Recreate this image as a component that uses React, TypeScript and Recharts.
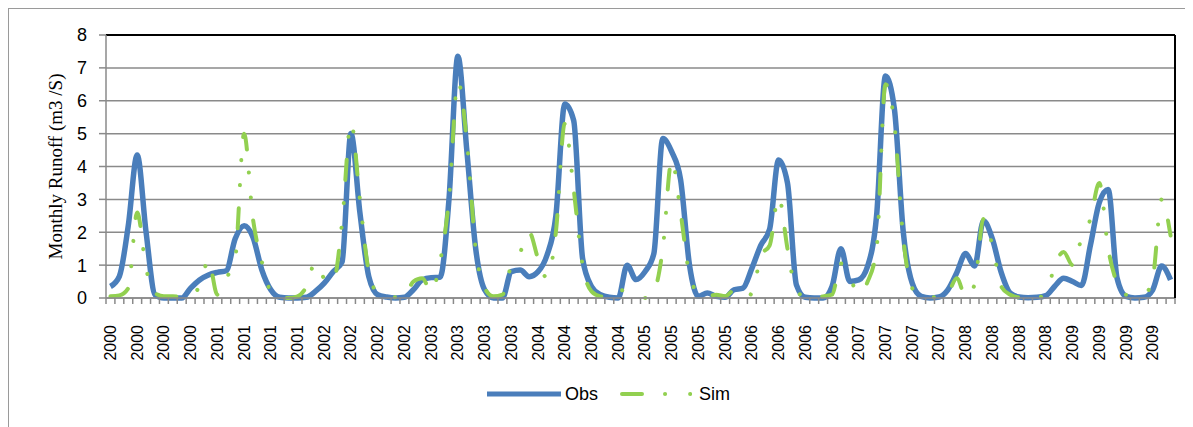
import React from "react";
import { LineChart, Line, XAxis, YAxis, CartesianGrid, Legend, ReferenceLine } from "recharts";

const YEARS = [2000, 2001, 2002, 2003, 2004, 2005, 2006, 2007, 2008, 2009];
const MONTHS = ["01", "02", "03", "04", "05", "06", "07", "08", "09", "10", "11", "12"];
const MONTH_KEYS = YEARS.flatMap((y) => MONTHS.map((m) => `${y}-${m}`));

// monthly runoff, observed
const OBS = [
  0.35, 0.66, 2.2, 4.35, 2.0, 0.1, 0, 0, 0, 0.3, 0.55, 0.7,
  0.78, 0.83, 1.8, 2.2, 1.85, 0.85, 0.25, 0.02, 0, 0, 0.02, 0.2,
  0.45, 0.8, 1.1, 5.0, 2.6, 0.65, 0.1, 0.03, 0, 0.02, 0.25, 0.55,
  0.62, 0.63, 3.0, 7.35, 4.5, 1.5, 0.25, 0, 0, 0.8, 0.85, 0.65,
  0.8, 1.3, 2.5, 5.9, 5.4, 1.2, 0.35, 0.1, 0.02, 0, 1.0, 0.56,
  0.8, 1.35, 4.85, 4.45, 3.6, 1.0, 0.05, 0.15, 0.05, 0.02, 0.25, 0.3,
  0.9, 1.6, 2.1, 4.2, 3.5, 0.4, 0.02, 0, 0, 0.35, 1.5, 0.5,
  0.55, 0.97, 2.5, 6.75, 5.75, 2.0, 0.45, 0.05, 0, 0.03, 0.25, 0.77,
  1.35, 0.97, 2.35, 1.8, 0.77, 0.15, 0.03, 0.01, 0.02, 0.07, 0.36, 0.6,
  0.5, 0.38, 1.6, 2.9, 3.3, 0.6, 0.05, 0, 0.02, 0.25, 0.97, 0.55,
];

// monthly runoff, simulated
const SIM = [
  0.05, 0.08, 0.3, 2.6, 0.9, 0.15, 0.05, 0.05, 0.03, 0.1, 0.35, 1.15,
  0.1, 0.6, 1.2, 5.0, 2.4, 1.1, 0.2, 0.03, 0, 0.05, 0.35, 1.1,
  0.6, 0.5, 2.3, 5.35, 3.0, 0.8, 0.15, 0.05, 0.02, 0.05, 0.5, 0.6,
  0.2, 1.1, 3.0, 6.6, 4.8, 1.5, 0.3, 0.05, 0.1, 1.0, 1.4, 2.0,
  1.2, 0.6, 2.0, 5.3, 3.3, 1.0, 0.2, 0.05, 0.02, 0.2, 0.25, 0.15,
  0, 0.2, 1.5, 4.2, 2.6, 0.7, 0.15, 0.05, 0.1, 0.05, 0.25, 0.3,
  0.1, 1.3, 1.6, 3.1, 1.5, 0.2, 0.05, 0.02, 0.05, 0.1, 1.05, 0.6,
  0.15, 0.5, 1.5, 6.5, 5.3, 1.8, 0.3, 0.05, 0.02, 0.05, 0.15, 0.6,
  0.05, 0.4, 2.4, 1.6, 0.35, 0.1, 0.02, 0.02, 0.02, 0.1, 1.0, 1.4,
  1.0, 1.8, 2.4, 3.5, 1.5, 0.45, 0.1, 0.1, 0.1, 0.6, 3.0, 1.9,
];

const Y_TICKS = [0, 1, 2, 3, 4, 5, 6, 7, 8];

const data = MONTH_KEYS.map((month, i) => ({
  month,
  year: month.slice(0, 4),
  obs: OBS[i],
  sim: SIM[i],
}));

const OBS_COLOR = "#4A7EBB";
const SIM_COLOR = "#92D050";
const SIM_DASH = "20 23 0.1 25 0.1 23";
const GRID = "#8a8a8a";
const FONT = "'Liberation Sans', Arial, sans-serif";

const W = 1184;
const H = 418;
const PLOT_W = 1069;
const HALF = PLOT_W / MONTH_KEYS.length / 2;

function MonthTick(props: any) {
  const { x, y, index, payload } = props;
  const last = index === MONTH_KEYS.length - 1;
  const show = index % 3 === 0;
  const ty = y + 27;
  return (
    <g>
      <line x1={x - HALF} y1={y} x2={x - HALF} y2={y + 6} stroke={GRID} strokeWidth={1.5} />
      {last && <line x1={x + HALF} y1={y} x2={x + HALF} y2={y + 6} stroke={GRID} strokeWidth={1.5} />}
      {show && (
        <text
          x={x}
          y={ty}
          transform={`rotate(-90, ${x}, ${ty})`}
          textAnchor="end"
          dominantBaseline="central"
          fontSize={16}
          fontFamily={FONT}
          fill="#000"
        >
          {String(payload.value).slice(0, 4)}
        </text>
      )}
    </g>
  );
}

function LegendContent() {
  return (
    <div
      style={{
        display: "flex",
        alignItems: "center",
        justifyContent: "center",
        height: 26,
        paddingLeft: 32,
        fontFamily: FONT,
        fontSize: 18,
        color: "#000",
      }}
    >
      <svg width={74} height={10}>
        <line x1={0} y1={5} x2={74} y2={5} stroke={OBS_COLOR} strokeWidth={5} />
      </svg>
      <span style={{ marginLeft: 4 }}>Obs</span>
      <svg width={72} height={10} style={{ marginLeft: 22 }}>
        <line
          x1={2}
          y1={5}
          x2={72}
          y2={5}
          stroke={SIM_COLOR}
          strokeWidth={4}
          strokeDasharray={SIM_DASH}
          strokeLinecap="round"
        />
      </svg>
      <span style={{ marginLeft: 7 }}>Sim</span>
    </div>
  );
}

export default function App() {
  return (
    <div
      style={{
        width: W,
        height: H,
        borderLeft: "1px solid #9a9a9a",
        borderTop: "1px solid #9a9a9a",
        background: "#fff",
      }}
    >
      <LineChart width={W} height={H} data={data} margin={{ top: 26, right: 17, bottom: 20, left: 0 }}>
        <CartesianGrid yAxisId="left" vertical={false} stroke={GRID} strokeWidth={1.5} />
        <XAxis
          dataKey="month"
          interval={0}
          height={83}
          tickSize={0}
          tickMargin={0}
          tickLine={false}
          tick={<MonthTick />}
          padding={{ left: HALF, right: HALF }}
          axisLine={{ stroke: GRID, strokeWidth: 1.5 }}
        />
        <YAxis
          yAxisId="left"
          width={97}
          domain={[0, 8]}
          ticks={Y_TICKS}
          interval={0}
          tickSize={7}
          tickMargin={12}
          tick={{ fontSize: 18, fontFamily: FONT, fill: "#000" }}
          tickLine={{ stroke: GRID, strokeWidth: 1.5 }}
          axisLine={{ stroke: GRID, strokeWidth: 1.5 }}
          label={{
            value: "Monthly Runoff (m3 /S)",
            angle: -90,
            position: "insideLeft",
            offset: 46,
            style: { textAnchor: "middle", fontFamily: "'Liberation Serif', 'Times New Roman', serif", fontSize: 19, fill: "#000" },
          }}
        />
        <YAxis
          yAxisId="right"
          orientation="right"
          width={1}
          domain={[0, 8]}
          tick={false}
          tickLine={false}
          axisLine={{ stroke: "#000", strokeWidth: 2 }}
        />
        <ReferenceLine yAxisId="left" y={8} stroke="#000" strokeWidth={2} />
        <Legend verticalAlign="bottom" content={<LegendContent />} />
        <Line
          yAxisId="left"
          type="monotone"
          dataKey="obs"
          name="Obs"
          stroke={OBS_COLOR}
          strokeWidth={5.5}
          dot={false}
          activeDot={false}
          isAnimationActive={false}
        />
        <Line
          yAxisId="left"
          type="monotone"
          dataKey="sim"
          name="Sim"
          stroke={SIM_COLOR}
          strokeWidth={4}
          strokeDasharray={SIM_DASH}
          strokeLinecap="round"
          dot={false}
          activeDot={false}
          isAnimationActive={false}
        />
      </LineChart>
    </div>
  );
}
